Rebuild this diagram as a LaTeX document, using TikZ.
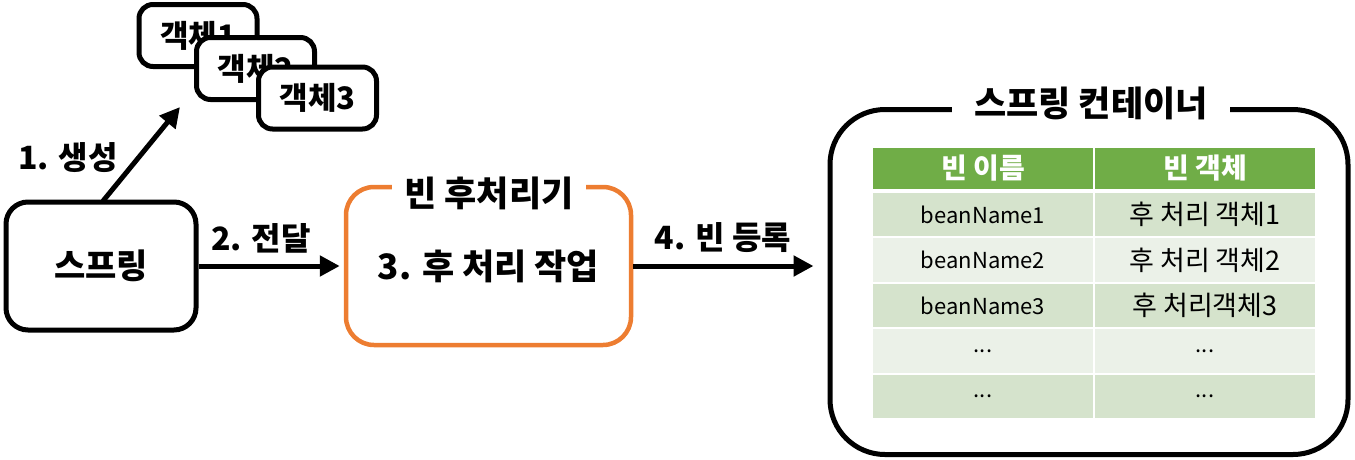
\documentclass[tikz,border=0pt]{standalone}
\usepackage{fontspec}
\setmainfont{Noto Sans CJK KR}
\usetikzlibrary{arrows.meta}
\definecolor{orng}{HTML}{ED7D31}
\definecolor{grn}{HTML}{70AD47}
\definecolor{rowdark}{HTML}{D5E3CC}
\definecolor{rowlight}{HTML}{EBF1E8}
\begin{document}
\begin{tikzpicture}[x=1pt,y=-1pt,
  box/.style={draw, line width=5pt, fill=white, rounded corners=14pt, inner sep=0pt},
  objbox/.style={box, minimum width=118pt, minimum height=62pt, font=\fontsize{31}{36}\selectfont\bfseries},
  big/.style={font=\fontsize{35}{40}\selectfont\bfseries},
  lbl/.style={font=\fontsize{32}{38}\selectfont\bfseries},
  arr/.style={line width=5pt, -{Triangle[length=20pt,width=20pt]}},
  hd/.style={draw=white, line width=2pt, fill=grn, text=white, minimum width=222pt, minimum height=43pt, inner sep=0pt, font=\fontsize{28}{32}\selectfont\bfseries},
  cdark/.style={draw=white, line width=2pt, fill=rowdark, minimum width=222pt, minimum height=45.5pt, inner sep=0pt, font=\fontsize{22}{26}\selectfont},
  clight/.style={cdark, fill=rowlight},
  kr/.style={font=\fontsize{27}{30}\selectfont}
]
\useasboundingbox (0,0) rectangle (1355,459);
% objects
\node[objbox] (o1) at (198,35.5) {객체1};
\node[objbox] (o2) at (255.5,68.5) {객체2};
\node[objbox] (o3) at (317.5,98) {객체3};
% spring
\node[box, rounded corners=22pt, minimum width=190pt, minimum height=128pt, font=\fontsize{34}{40}\selectfont\bfseries] (spring) at (101,266) {스프링};
% post processor
\node[box, draw=orng, line width=4.5pt, rounded corners=28pt, minimum width=285pt, minimum height=158pt, big] (post) at (488.5,266) {3. 후 처리 작업};
\node[fill=white, inner xsep=12pt, inner ysep=0pt, big] (posttitle) at (489,193) {빈 후처리기};
% container
\node[box, rounded corners=55pt, minimum width=518pt, minimum height=345pt] (cont) at (1089,282) {};
\node[fill=white, inner xsep=22pt, inner ysep=0pt, big] (conttitle) at (1091,103) {스프링 컨테이너};
% table
\node[hd] (h1) at (983,168.5) {빈 이름};
\node[hd] (h2) at (1205,168.5) {빈 객체};
\node[cdark] (r1a) at (983,214.5) {beanName1};
\node[cdark, kr] (r1b) at (1205,214.5) {후 처리 객체1};
\node[clight] (r2a) at (983,260) {beanName2};
\node[clight, kr] (r2b) at (1205,260) {후 처리 객체2};
\node[cdark] (r3a) at (983,305.5) {beanName3};
\node[cdark, kr] (r3b) at (1205,305.5) {후 처리객체3};
\node[clight] (r4a) at (983,351) {...};
\node[clight] (r4b) at (1205,351) {...};
\node[cdark] (r5a) at (983,396.5) {...};
\node[cdark] (r5b) at (1205,396.5) {...};
% arrows
\coordinate (a1s) at (103,201);
\coordinate (a1e) at (180,107);
\draw[arr] (a1s) -- (a1e);
\node[lbl] (l1) at (68,158) {1. 생성};
\draw[arr] (spring.east) -- ([xshift=-4pt]post.west);
\node[lbl] (l2) at (261,238) {2. 전달};
\draw[arr] (post.east) -- ([xshift=-14pt]post.east -| cont.west);
\node[lbl] (l4) at (723,238) {4. 빈 등록};
\end{tikzpicture}
\end{document}
